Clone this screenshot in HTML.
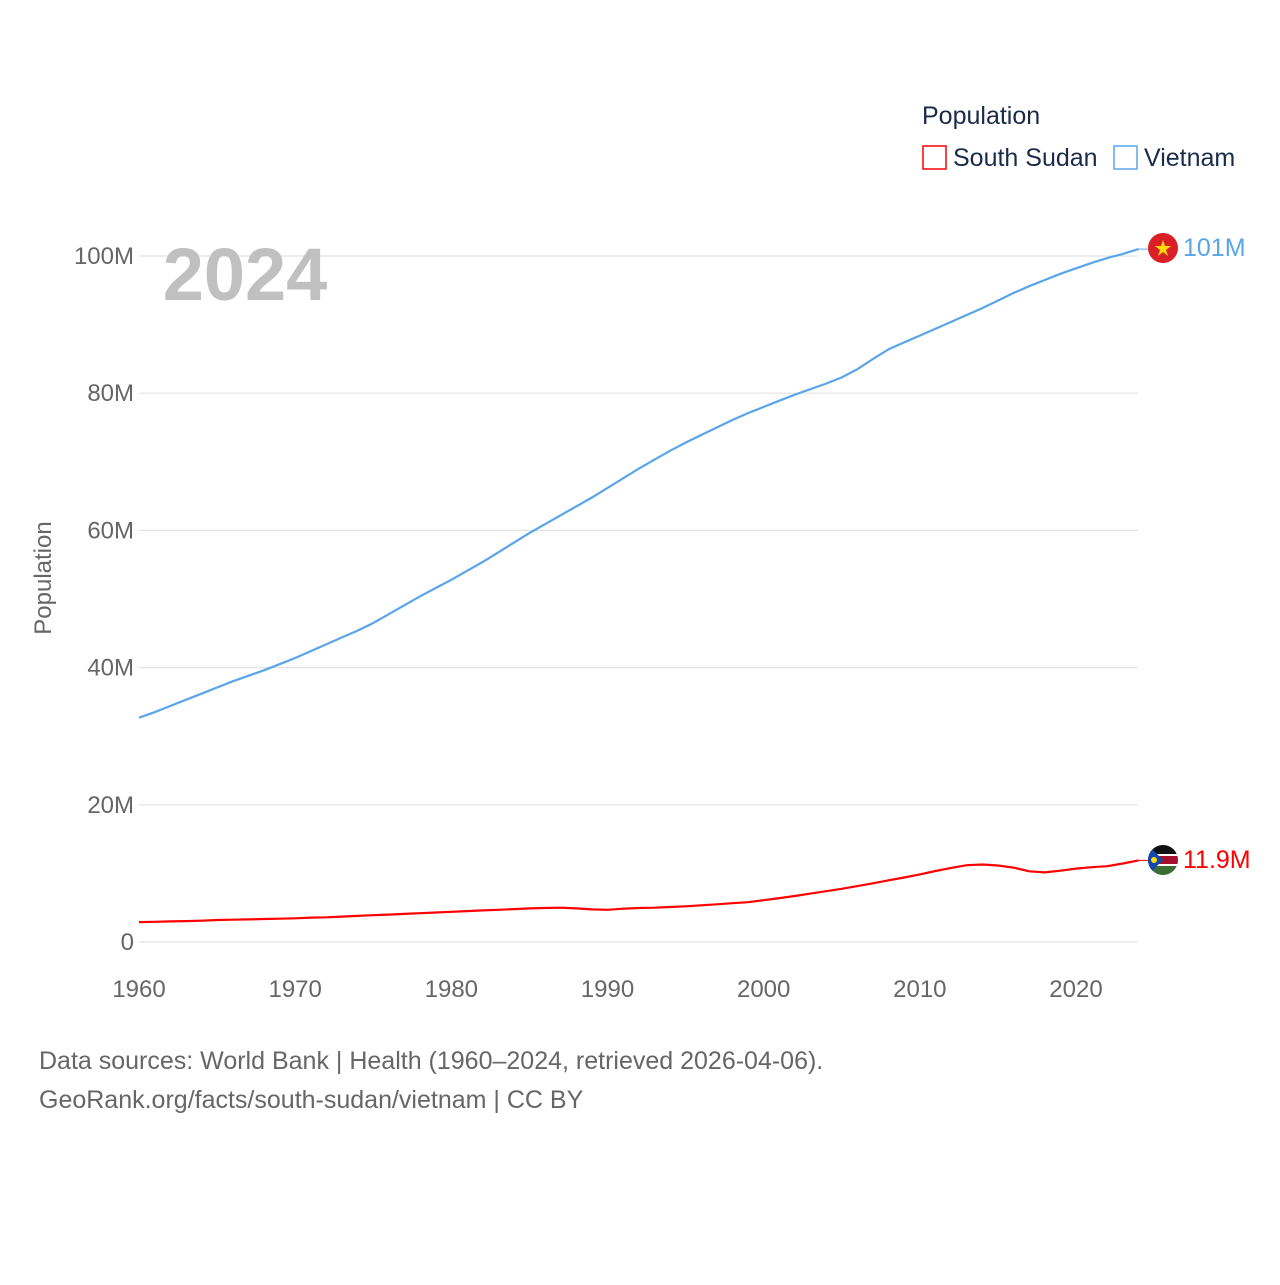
<!DOCTYPE html>
<html><head><meta charset="utf-8"><style>
body{margin:0;background:#fff;font-family:"Liberation Sans",sans-serif}
svg text{font-family:"Liberation Sans",sans-serif}
</style></head><body>
<svg id="chart" width="1280" height="1280" xmlns="http://www.w3.org/2000/svg">
<rect width="1280" height="1280" fill="#fff"/>
<g id="grid"></g>
<g id="yticks"></g>
<g id="xticks"></g>
<text x="245" y="300" text-anchor="middle" font-size="74" font-weight="bold" fill="#c0c0c0">2024</text>
<text transform="translate(51,578) rotate(-90)" text-anchor="middle" font-size="24" fill="#666">Population</text>
<g id="lines"></g>
<g>
<text x="922" y="124" font-size="25" fill="#1a2b4a">Population</text>
<g><rect x="923" y="146" width="23" height="23" fill="none" stroke="#f00" stroke-width="1.5"/><text x="953" y="166" font-size="25" fill="#1a2b4a">South Sudan</text></g>
<g><rect x="1114" y="146" width="23" height="23" fill="none" stroke="#5aa5ea" stroke-width="1.5"/><text x="1144" y="166" font-size="25" fill="#1a2b4a">Vietnam</text></g>
</g>
<g>
<circle cx="1163" cy="248" r="15" fill="#da1f26"/>
<polygon points="1163,240 1165,246 1171,246 1166,250 1168,256 1163,252 1158,256 1160,250 1155,246 1161,246" fill="#ffdd00"/>
</g>
<g>
<clipPath id="ssc"><circle cx="1163" cy="860" r="15"/></clipPath>
<g clip-path="url(#ssc)">
<rect x="1148" y="845" width="30" height="10" fill="#111"/>
<rect x="1148" y="855" width="30" height="10" fill="#a50f2d"/>
<rect x="1148" y="854" width="30" height="2" fill="#fff"/>
<rect x="1148" y="864" width="30" height="2" fill="#fff"/>
<rect x="1148" y="866" width="30" height="9" fill="#3b6e32"/>
<polygon points="1148,845 1163,860 1148,875" fill="#0f47af"/>
<circle cx="1154" cy="860" r="3" fill="#fcdd09"/>
</g></g>
<text x="1183" y="256" font-size="25" fill="#5aa5ea">101M</text>
<text x="1183" y="868" font-size="25" fill="#f00">11.9M</text>
<text x="39" y="1069" font-size="25" fill="#666">Data sources: World Bank | Health (1960–2024, retrieved 2026-04-06).</text>
<text x="39" y="1108" font-size="25" fill="#666">GeoRank.org/facts/south-sudan/vietnam | CC BY</text>
</svg>
<script>
const years=[];for(let y=1960;y<=2024;y++)years.push(y);
const vietnam=[32.7,33.5,34.4,35.3,36.2,37.1,38.0,38.8,39.6,40.5,41.4,42.4,43.4,44.4,45.4,46.5,47.8,49.1,50.4,51.6,52.8,54.1,55.4,56.8,58.2,59.6,60.9,62.2,63.5,64.8,66.2,67.6,69.0,70.3,71.6,72.8,73.9,75.0,76.1,77.1,78.0,78.9,79.8,80.6,81.4,82.3,83.5,85.0,86.4,87.4,88.4,89.4,90.4,91.4,92.4,93.5,94.6,95.6,96.5,97.4,98.2,99.0,99.7,100.3,101.0];
const southSudan=[2.9,2.95,3.0,3.05,3.1,3.2,3.25,3.3,3.35,3.4,3.45,3.55,3.6,3.7,3.8,3.9,4.0,4.1,4.2,4.3,4.4,4.5,4.6,4.7,4.8,4.9,4.95,5.0,4.9,4.75,4.7,4.85,4.95,5.0,5.1,5.2,5.35,5.5,5.65,5.8,6.1,6.4,6.7,7.05,7.4,7.75,8.15,8.55,9.0,9.4,9.85,10.35,10.8,11.2,11.3,11.15,10.85,10.3,10.15,10.4,10.7,10.9,11.05,11.45,11.9];
const yTicks=[0,20,40,60,80,100];
const yTickLabels=["0","20M","40M","60M","80M","100M"];
const xTicks=[1960,1970,1980,1990,2000,2010,2020];
const NS="http://www.w3.org/2000/svg";
const xs=y=>139+(y-1960)*(1076-139)/60;
const ys=v=>942-v*6.86;
function mk(t,a,p){const e=document.createElementNS(NS,t);for(const k in a)e.setAttribute(k,a[k]);document.getElementById(p).appendChild(e);return e;}
yTicks.forEach((v,i)=>{
 const l=mk('line',{x1:139,x2:1138,y1:ys(v),y2:ys(v),stroke:'#e3e3e3','stroke-width':1.2},'grid');
 
 
 const t=mk('text',{x:134,y:ys(v)+8,'text-anchor':'end','font-size':24,fill:'#666'},'yticks');
 t.textContent=yTickLabels[i];
 
 
});
xTicks.forEach(v=>{
 const t=mk('text',{x:xs(v),y:997,'text-anchor':'middle','font-size':24,fill:'#666'},'xticks');
 t.textContent=v;
 
 
});
function line(vals,color,name){
 const d=vals.map((v,i)=>(i?'L':'M')+xs(years[i]).toFixed(1)+','+ys(v).toFixed(1)).join('');
 const p=mk('path',{d:d,fill:'none',stroke:color,'stroke-width':2.2},'lines');
 
 
 const last=vals[vals.length-1];
 const c=mk('line',{x1:xs(2024),x2:1148,y1:ys(last),y2:ys(last),stroke:color,'stroke-width':1},'lines');
 
 
}
line(vietnam,'#5aa5ea','vietnam-line');
line(southSudan,'#f00','south-sudan-line');
</script>
</body></html>
